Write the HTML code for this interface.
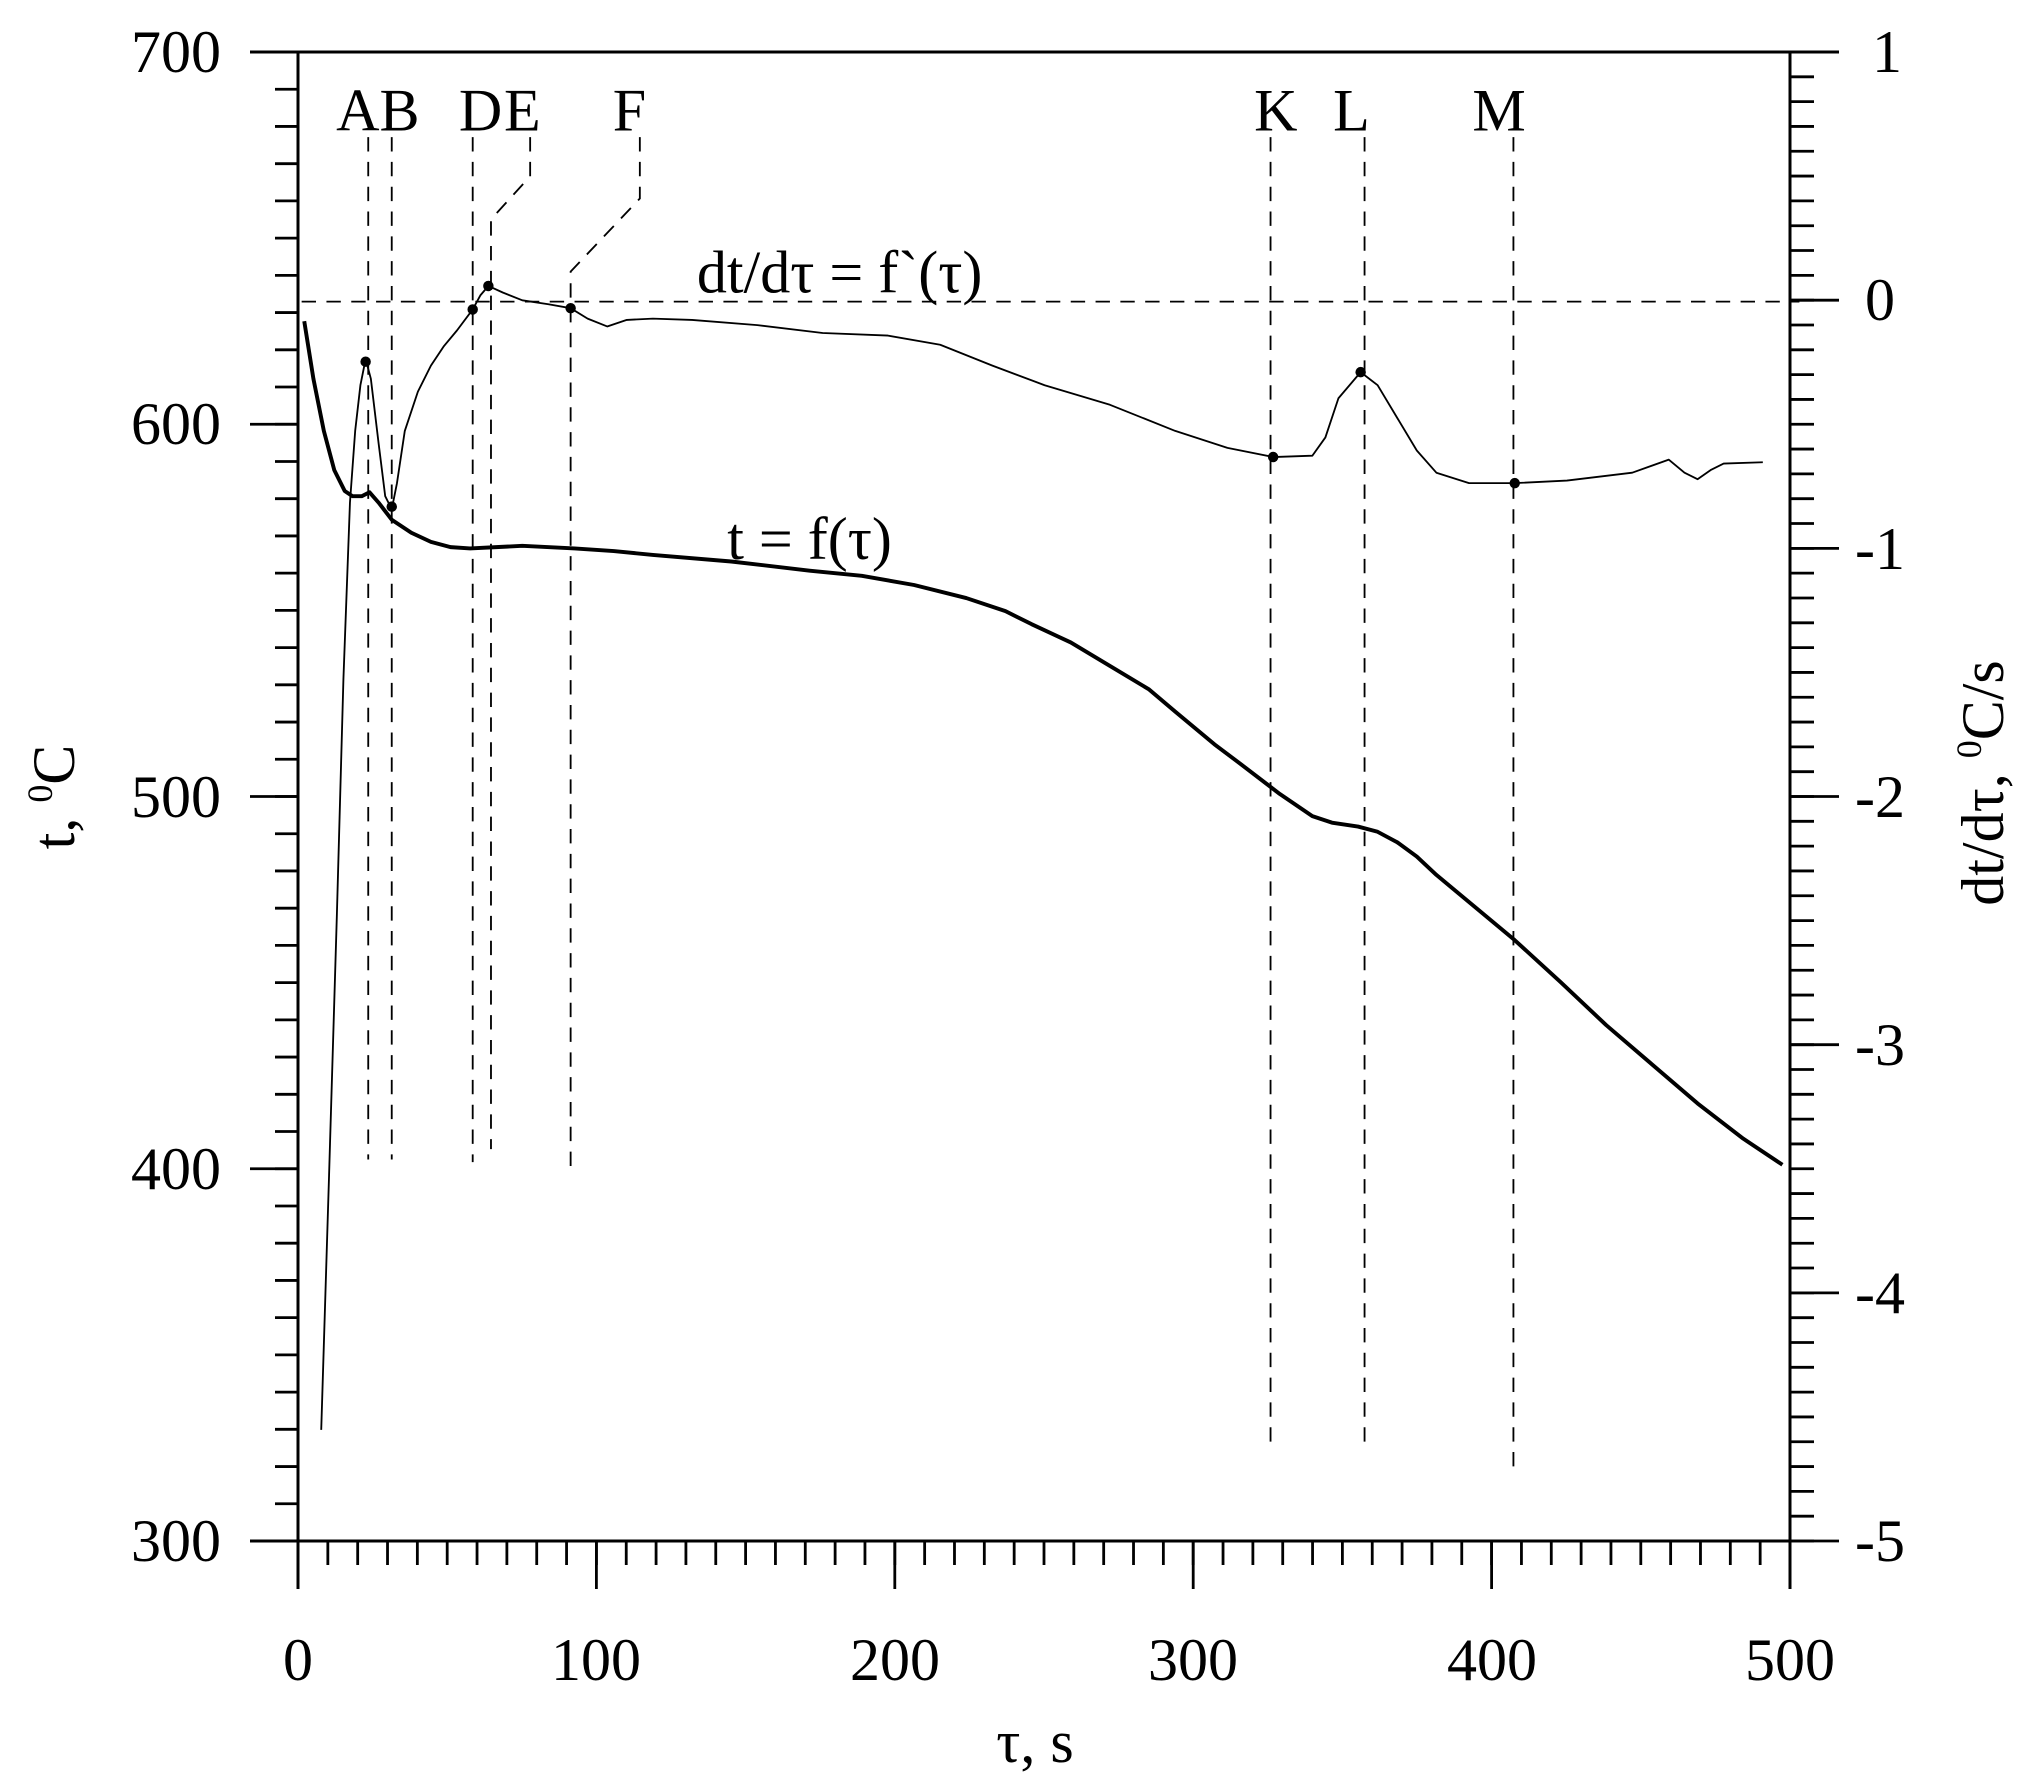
<!DOCTYPE html>
<html><head><meta charset="utf-8"><style>html,body{margin:0;padding:0;background:#fff}svg{display:block}</style></head>
<body>
<svg width="2037" height="1782" viewBox="0 0 2037 1782" xmlns="http://www.w3.org/2000/svg" font-family="Liberation Serif, serif" fill="none">
<g stroke="#000" stroke-width="3">
<line x1="250" y1="52" x2="1839" y2="52"/>
<line x1="250" y1="1541" x2="1790" y2="1541"/>
<line x1="298" y1="52" x2="298" y2="1589"/>
<line x1="1790" y1="52" x2="1790" y2="1589"/>
</g>
<g stroke="#000">
<line x1="298" y1="1553" x2="1791.5" y2="1553" stroke-width="24" stroke-dasharray="2.8 27.04" stroke-dashoffset="1.4"/>
<line x1="286.5" y1="52" x2="286.5" y2="1542.5" stroke-width="23" stroke-dasharray="2.8 34.425" stroke-dashoffset="1.4"/>
<line x1="1802" y1="52" x2="1802" y2="1542.5" stroke-width="24" stroke-dasharray="2.8 22.017" stroke-dashoffset="1.4"/>
</g>
<g stroke="#000" stroke-width="2.8">
<path d="M596.4,1541v48M894.8,1541v48M1193.2,1541v48M1491.6,1541v48"/>
<path d="M250,424.25h48M250,796.5h48M250,1168.75h48"/>
<path d="M1790,300.17h49M1790,548.34h49M1790,796.5h49M1790,1044.68h49M1790,1292.85h49M1790,1541h49"/>
</g>
<g fill="#000" font-size="60" text-anchor="middle">
<text x="176" y="72">700</text><text x="176" y="444">600</text><text x="176" y="817">500</text><text x="176" y="1189">400</text><text x="176" y="1561">300</text>
<text x="1887" y="72">1</text><text x="1880" y="320">0</text><text x="1880" y="569">-1</text><text x="1880" y="817">-2</text><text x="1880" y="1065">-3</text><text x="1880" y="1313">-4</text><text x="1880" y="1561">-5</text>
<text x="298" y="1680">0</text><text x="596" y="1680">100</text><text x="895" y="1680">200</text><text x="1193" y="1680">300</text><text x="1492" y="1680">400</text><text x="1790" y="1680">500</text>
<text x="1035" y="1762">τ, s</text>
<text transform="translate(74,797) rotate(-90)">t, <tspan font-size="36" dy="-22">0</tspan><tspan dy="22">C</tspan></text>
<text transform="translate(2003,783) rotate(-90)">dt/dτ, <tspan font-size="36" dy="-22">0</tspan><tspan dy="22">C/s</tspan></text>
</g>
<g transform="scale(1.3058)">
<g stroke="#000" stroke-width="1.4" stroke-dasharray="11,8">
<line x1="231" y1="231" x2="1378" y2="231"/>
<line x1="282" y1="105" x2="282" y2="888"/>
<line x1="300" y1="105" x2="300" y2="888"/>
<line x1="362" y1="105" x2="362" y2="890"/>
<polyline points="406,105 406,135 376,168 376,880"/>
<polyline points="490,105 490,152 437,208 437,895"/>
<line x1="973" y1="105" x2="973" y2="1110"/>
<line x1="1045" y1="105" x2="1045" y2="1110"/>
<line x1="1159" y1="105" x2="1159" y2="1125"/>
</g>
<polyline stroke="#000" stroke-width="3" stroke-linejoin="round" points="233,246 240,290 248,330 256,360 264,376 270,380 277,380 283,377 290,385 300,398 315,408 330,415 345,419 360,420 380,419 400,418 440,420 470,422 500,425 560,430 620,437 660,441 700,448 740,458 770,468 790,478 820,492 850,510 880,528 900,545 930,570 950,585 980,608 1005,625 1020,630 1040,633 1055,637 1070,645 1085,656 1100,670 1130,695 1160,720 1195,752 1230,785 1265,815 1300,845 1335,872 1365,892"/>
<polyline stroke="#000" stroke-width="1.4" stroke-linejoin="round" points="246,1095 252,900 258,700 263,520 268,385 272,330 276,295 280,275 284,290 290,340 295,380 300,390 304,370 310,330 320,300 330,280 340,265 350,253 362,237 368,226 374,219 385,224 400,230 420,233 437,236 450,244 465,250 480,245 500,244 530,245 580,249 630,255 680,257 720,264 760,280 800,295 850,310 900,330 940,343 975,350 1005,349 1015,335 1025,305 1042,285 1055,295 1070,320 1085,345 1100,362 1125,370 1160,370 1200,368 1250,362 1278,352 1290,362 1300,367 1310,360 1320,355 1350,354"/>
<g fill="#000">
<circle cx="280" cy="277" r="4"/><circle cx="300" cy="388" r="4"/><circle cx="362" cy="237" r="4"/><circle cx="374" cy="219" r="4"/><circle cx="437" cy="236" r="4"/><circle cx="975" cy="350" r="4"/><circle cx="1042" cy="285" r="4"/><circle cx="1160" cy="370" r="4"/>
</g>
<g fill="#000" font-size="46" text-anchor="middle">
<text x="274" y="100">A</text><text x="306" y="100">B</text><text x="368" y="100">D</text><text x="400" y="100">E</text><text x="482" y="100">F</text><text x="977" y="100">K</text><text x="1035" y="100">L</text><text x="1148" y="100">M</text>
</g>
<g fill="#000" font-size="46" text-anchor="middle">
<text x="643" y="224">dt/dτ = f`(τ)</text>
<text x="620" y="428">t = f(τ)</text>
</g>
</g>
</svg>
</body></html>
